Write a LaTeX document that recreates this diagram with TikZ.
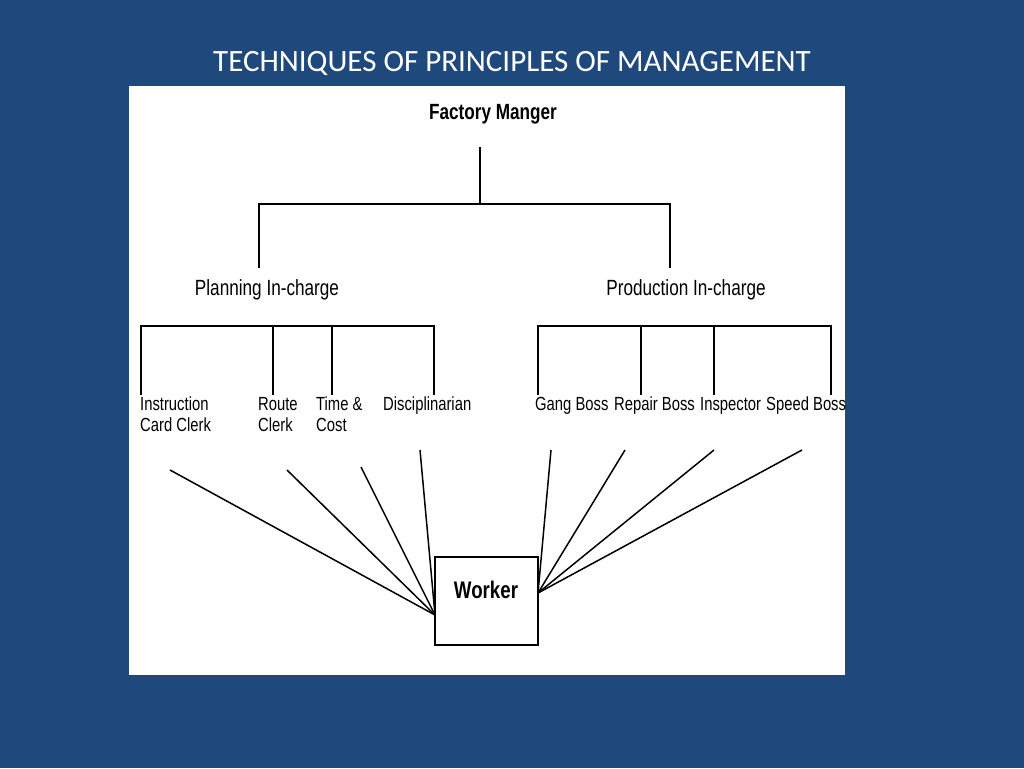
\documentclass[tikz,border=0pt]{standalone}
\usepackage{fontspec}
\setmainfont{Liberation Sans}
\newfontfamily\titlefont{Carlito}
\definecolor{bg}{RGB}{31,73,125}
\begin{document}
\begin{tikzpicture}[x=1pt,y=-1pt,
  lbl/.style={font=\fontsize{19}{21}\selectfont, xscale=0.78, inner sep=0, align=left, anchor=north west},
  hd/.style={font=\fontsize{22}{24}\selectfont, xscale=0.78, inner sep=0},
  ln/.style={line width=1.2pt, black}]
\fill[bg] (0,0) rectangle (1024,768);
\fill[white] (129,86) rectangle (845,675);
\node[text=white, font=\titlefont\fontsize{31}{34}\selectfont, inner sep=0] (title) at (512,63) {TECHNIQUES OF PRINCIPLES OF MANAGEMENT};
\node[hd, font=\bfseries\fontsize{22}{24}\selectfont] (fm) at (493,114) {Factory Manger};
\node[hd] (pl) at (267,290) {Planning In-charge};
\node[hd] (pr) at (686,290) {Production In-charge};
\draw[ln] (480,147) -- (480,204);
\draw[ln] (259,268) -- (259,204) -- (670,204) -- (670,268);
\draw[ln] (141,395) -- (141,326) -- (434,326) -- (434,395);
\draw[ln] (273,326) -- (273,395);
\draw[ln] (332,326) -- (332,395);
\draw[ln] (538,395) -- (538,326) -- (831,326) -- (831,395);
\draw[ln] (641,326) -- (641,395);
\draw[ln] (714,326) -- (714,395);
\node[lbl] (ic) at (140,397) {Instruction\\Card Clerk};
\node[lbl] (rc) at (258,397) {Route\\Clerk};
\node[lbl] (tc) at (316,397) {Time \&\\Cost};
\node[lbl] (di) at (383,397) {Disciplinarian};
\node[lbl] (gb) at (535,397) {Gang Boss};
\node[lbl] (rb) at (614,397) {Repair Boss};
\node[lbl] (in) at (700,397) {Inspector};
\node[lbl] (sb) at (766,397) {Speed Boss};
\draw[ln] (435,557) rectangle (538,645);
\node[hd, font=\bfseries\fontsize{24}{26}\selectfont] (w) at (486,590) {Worker};
\coordinate (wl) at (435,615);
\coordinate (wr) at (538,593);
\coordinate (a1) at (170,470); \coordinate (a2) at (287,470);
\coordinate (a3) at (361,467); \coordinate (a4) at (420,450);
\coordinate (b1) at (551,450); \coordinate (b2) at (625,450);
\coordinate (b3) at (714,450); \coordinate (b4) at (802,450);
\foreach \p in {a1,a2,a3,a4} \draw[line width=1.5pt] (\p) -- (wl);
\foreach \p in {b1,b2,b3,b4} \draw[line width=1.5pt] (\p) -- (wr);
\end{tikzpicture}
\end{document}
